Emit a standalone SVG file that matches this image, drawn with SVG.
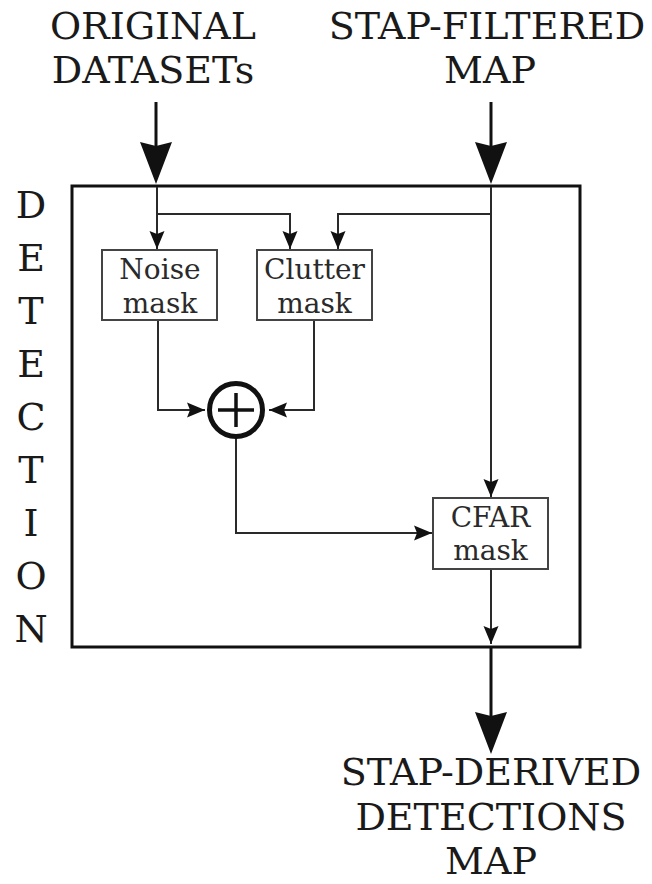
<svg xmlns="http://www.w3.org/2000/svg" width="652" height="884" viewBox="0 0 652 884">
<defs>
<style>
.big{font-family:"DejaVu Serif","Liberation Serif",serif;font-size:38px;fill:#1a1a1a;text-anchor:middle}
.lbl{font-family:"DejaVu Serif","Liberation Serif",serif;font-size:28px;fill:#2a2a2a;text-anchor:middle}
.box{fill:#fff;stroke:#444;stroke-width:2}
.ln{fill:none;stroke:#2a2a2a;stroke-width:2}
.thick{fill:none;stroke:#111;stroke-width:3}
.head{fill:#111}
</style>
<marker id="ah" markerWidth="18" markerHeight="16" refX="18" refY="8" orient="auto" markerUnits="userSpaceOnUse">
<path d="M0,0.5 L18,8 L0,15.5 L3,8 z" fill="#111"/>
</marker>
</defs>
<rect width="652" height="884" fill="#fff"/>

<g id="title-original">
<text class="big" x="153" y="39">ORIGINAL</text>
<text class="big" x="153" y="83">DATASETs</text>
</g>
<g id="title-stap-filtered">
<text class="big" x="487" y="39">STAP-FILTERED</text>
<text class="big" x="490" y="83">MAP</text>
</g>
<g id="detection-label">
<text class="big" x="31" y="218">D</text>
<text class="big" x="31" y="271">E</text>
<text class="big" x="31" y="324">T</text>
<text class="big" x="31" y="377">E</text>
<text class="big" x="31" y="430">C</text>
<text class="big" x="31" y="483">T</text>
<text class="big" x="31" y="536">I</text>
<text class="big" x="31" y="589">O</text>
<text class="big" x="31" y="642">N</text>
</g>
<g id="detection-box">
<rect x="72" y="186" width="508" height="461" fill="none" stroke="#111" stroke-width="3"/>
</g>

<g id="connectors">
<line class="thick" x1="156" y1="102" x2="156" y2="150"/>
<path class="head" d="M140,142 L156,146 L172,142 L156,184 z"/>
<line class="thick" x1="491" y1="102" x2="491" y2="150"/>
<path class="head" d="M475,142 L491,146 L507,142 L491,184 z"/>
<line class="thick" x1="491" y1="648" x2="491" y2="720"/>
<path class="head" d="M475,712 L491,716 L507,712 L491,754 z"/>

<line class="ln" x1="157" y1="187" x2="157" y2="249" marker-end="url(#ah)"/>
<polyline class="ln" points="157,214 290,214 290,249" marker-end="url(#ah)"/>
<line class="ln" x1="491" y1="187" x2="491" y2="497" marker-end="url(#ah)"/>
<polyline class="ln" points="491,214 338,214 338,249" marker-end="url(#ah)"/>
<polyline class="ln" points="158,320 158,410 205,410" marker-end="url(#ah)"/>
<polyline class="ln" points="314,320 314,410 269,410" marker-end="url(#ah)"/>
<polyline class="ln" points="236,438 236,533 432,533" marker-end="url(#ah)"/>
<line class="ln" x1="491" y1="569" x2="491" y2="644" marker-end="url(#ah)"/>
</g>

<g id="noise-mask">
<rect class="box" x="102" y="250" width="115" height="70"/>
<text class="lbl" x="160" y="279">Noise</text>
<text class="lbl" x="160" y="313">mask</text>
</g>
<g id="clutter-mask">
<rect class="box" x="257" y="250" width="115" height="70"/>
<text class="lbl" x="314.5" y="279">Clutter</text>
<text class="lbl" x="314.5" y="313">mask</text>
</g>
<g id="sum">
<circle cx="236" cy="410" r="26.5" fill="#fff" stroke="#111" stroke-width="5"/>
<line x1="218" y1="410" x2="254" y2="410" stroke="#111" stroke-width="3.5"/>
<line x1="236" y1="393" x2="236" y2="427" stroke="#111" stroke-width="3.5"/>
</g>
<g id="cfar-mask">
<rect class="box" x="433" y="498" width="115" height="71"/>
<text class="lbl" x="490.5" y="527">CFAR</text>
<text class="lbl" x="490.5" y="560">mask</text>
</g>
<g id="title-output">
<text class="big" x="491" y="785">STAP-DERIVED</text>
<text class="big" x="491" y="830">DETECTIONS</text>
<text class="big" x="491" y="874">MAP</text>
</g>
</svg>
